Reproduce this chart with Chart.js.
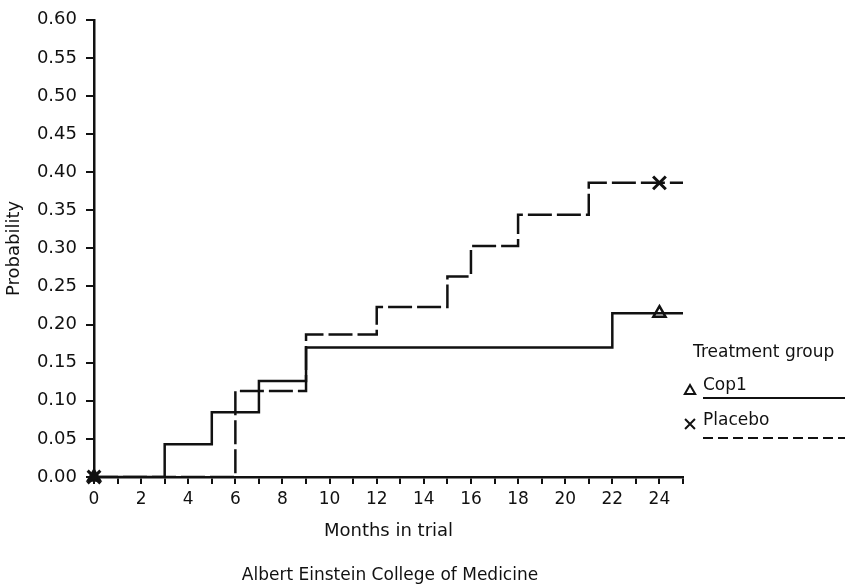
<!DOCTYPE html>
<html lang="en">
<head>
<meta charset="UTF-8">
<title>Probability by months in trial</title>
<script src="https://cdn.jsdelivr.net/npm/chart.js"></script>
<style>
  html, body { margin: 0; padding: 0; background: #fff; }
  #wrap { width: 845px; height: 586px; }
</style>
</head>
<body>
<div id="wrap"><canvas id="kmChart" width="845" height="586"></canvas></div>
<script>
// Cop1 (solid): month of each step and the probability after it
const cop1Months = [0, 3, 5, 7, 9, 22, 25];
const cop1Prob = [0, 0.043, 0.085, 0.126, 0.170, 0.215, 0.215];

// Placebo (dashed)
const placeboMonths = [0, 6, 9, 12, 15, 16, 18, 21, 25];
const placeboProb = [0, 0.113, 0.187, 0.223, 0.263, 0.303, 0.344, 0.386, 0.386];

// end-of-curve marks
const cop1MarkMonths = [0, 24];
const cop1MarkProb = [0, 0.215];
const placeboMarkMonths = [0, 24];
const placeboMarkProb = [0, 0.386];

// axis ticks
const monthTicks = [0, 1, 2, 3, 4, 5, 6, 7, 8, 9, 10, 11, 12, 13, 14, 15, 16, 17, 18, 19, 20, 21, 22, 23, 24, 25];
const monthLabels = [0, 2, 4, 6, 8, 10, 12, 14, 16, 18, 20, 22, 24];
const probTicks = [0, 0.05, 0.10, 0.15, 0.20, 0.25, 0.30, 0.35, 0.40, 0.45, 0.50, 0.55, 0.60];

const ink = '#111';
const face = '"DejaVu Sans", sans-serif';
Chart.defaults.font.family = face;
Chart.defaults.color = ink;

const toXY = (xs, ys) => xs.map((x, i) => ({ x: x, y: ys[i] }));

// legend + credit line drawn by hand (the built-in legend can't do this layout)
const notes = {
  id: 'notes',
  afterDraw(chart) {
    const c = chart.ctx;
    c.save();
    c.fillStyle = ink;
    c.strokeStyle = ink;
    c.textBaseline = 'alphabetic';

    c.font = '17px ' + face;
    c.textAlign = 'center';
    c.fillText('Albert Einstein College of Medicine', 390, 580);

    c.textAlign = 'left';
    c.fillText('Treatment group', 693, 357);
    c.fillText('Cop1', 703, 390);
    c.fillText('Placebo', 703, 425);

    c.lineWidth = 2;
    c.beginPath();
    c.moveTo(703, 398);
    c.lineTo(845, 398);
    c.stroke();

    c.setLineDash([10, 5]);
    c.beginPath();
    c.moveTo(703, 438);
    c.lineTo(845, 438);
    c.stroke();
    c.setLineDash([]);

    c.fillStyle = '#fff';
    Chart.helpers.drawPoint(c, { pointStyle: 'triangle', radius: 6, rotation: 0, borderWidth: 2 }, 690, 391);
    Chart.helpers.drawPoint(c, { pointStyle: 'crossRot', radius: 7, rotation: 0, borderWidth: 2.5 }, 690, 424);
    c.restore();
  }
};

new Chart(document.getElementById('kmChart'), {
  type: 'line',
  data: {
    datasets: [
      {
        label: 'Cop1',
        data: toXY(cop1Months, cop1Prob),
        stepped: true,
        borderColor: ink,
        borderWidth: 2.5,
        pointRadius: 0,
        fill: false
      },
      {
        label: 'Placebo',
        data: toXY(placeboMonths, placeboProb),
        stepped: true,
        borderColor: ink,
        borderWidth: 2.5,
        borderDash: [24, 5],
        pointRadius: 0,
        fill: false
      },
      {
        label: 'Cop1 mark',
        data: toXY(cop1MarkMonths, cop1MarkProb),
        showLine: false,
        pointStyle: 'triangle',
        pointRadius: 7,
        pointBorderWidth: 2.5,
        pointBorderColor: ink,
        pointBackgroundColor: [ink, '#fff'],
        clip: false
      },
      {
        label: 'Placebo mark',
        data: toXY(placeboMarkMonths, placeboMarkProb),
        showLine: false,
        pointStyle: 'crossRot',
        pointRadius: 9,
        pointBorderWidth: 3,
        pointBorderColor: ink,
        clip: false
      }
    ]
  },
  options: {
    responsive: false,
    animation: false,
    layout: { padding: { top: 17, right: 162, left: 0, bottom: 0 } },
    plugins: {
      legend: { display: false },
      tooltip: { enabled: false }
    },
    scales: {
      x: {
        type: 'linear',
        min: 0,
        max: 25,
        afterFit: s => { s.height = 109; },
        afterBuildTicks: s => { s.ticks = monthTicks.map(v => ({ value: v })); },
        border: { display: true, color: ink, width: 2.5 },
        grid: { drawOnChartArea: false, drawTicks: true, tickLength: 7, color: ink, lineWidth: 2 },
        ticks: {
          autoSkip: false,
          maxRotation: 0,
          padding: 5,
          color: ink,
          font: { size: 17 },
          callback: v => monthLabels.includes(v) ? String(v) : ''
        },
        title: {
          display: true,
          text: 'Months in trial',
          color: ink,
          font: { size: 18 },
          padding: { top: 0, bottom: 44 }
        }
      },
      y: {
        min: 0,
        max: 0.6,
        afterFit: s => { s.width = 94; },
        afterBuildTicks: s => { s.ticks = probTicks.map(v => ({ value: v })); },
        border: { display: true, color: ink, width: 2.5 },
        grid: { drawOnChartArea: false, drawTicks: true, tickLength: 8, color: ink, lineWidth: 2 },
        ticks: {
          padding: 9,
          color: ink,
          font: { size: 18 },
          callback: v => v.toFixed(2)
        },
        title: {
          display: true,
          text: 'Probability',
          color: ink,
          font: { size: 18 },
          padding: { top: 4, bottom: 0 }
        }
      }
    }
  },
  plugins: [notes]
});
</script>
</body>
</html>
